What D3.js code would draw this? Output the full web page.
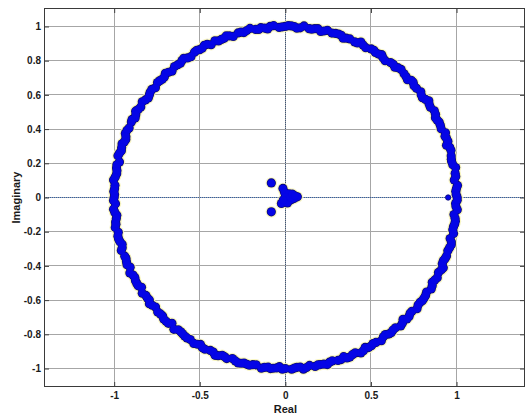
<!DOCTYPE html>
<html>
<head>
<meta charset="utf-8">
<script src="https://cdn.jsdelivr.net/npm/d3@7"></script>
<style>
  html, body { margin: 0; padding: 0; background: #ffffff; }
  svg { display: block; }
  text { font-family: "Liberation Sans", Arial, sans-serif; font-weight: bold; fill: #1a1a1a; }
</style>
</head>
<body>
<svg id="chart" width="529" height="417"></svg>
<script>
// ---- data ----
const xTicks = [-1, -0.5, 0, 0.5, 1];
const xTickLabels = ["-1", "-0.5", "0", "0.5", "1"];
const yTicks = [-1, -0.8, -0.6, -0.4, -0.2, 0, 0.2, 0.4, 0.6, 0.8, 1];
const yTickLabels = ["-1", "-0.8", "-0.6", "-0.4", "-0.2", "0", "0.2", "0.4", "0.6", "0.8", "1"];
const xLabel = "Real";
const yLabel = "Imaginary";

// roots on the unit circle: angle (degrees) and modulus
const ringAngles = [
  0.0, 2.1, 4.0, 5.9, 8.1, 10.0, 12.2, 14.1, 15.9, 18.0,
  20.1, 22.0, 23.8, 26.1, 28.0, 30.2, 31.9, 34.0, 36.1, 38.0,
  39.8, 42.1, 44.0, 46.2, 47.9, 50.0, 52.1, 53.9, 56.0, 58.2,
  60.0, 61.8, 64.1, 66.0, 67.9, 70.1, 72.0, 74.2, 75.9, 78.0,
  80.1, 82.0, 83.8, 86.1, 88.0, 90.0, 92.1, 93.9, 96.0, 98.2,
  100.0, 101.8, 104.1, 106.0, 107.9, 110.1, 112.0, 114.2, 115.9, 118.0,
  120.1, 122.0, 123.8, 126.1, 128.0, 130.2, 131.9, 134.0, 136.1, 138.0,
  139.8, 142.1, 144.0, 146.2, 147.9, 150.0, 152.1, 153.9, 156.0, 158.2,
  160.0, 161.8, 164.1, 166.0, 167.9, 170.1, 172.0, 174.2, 175.9, 178.0,
  180.0, 182.1, 183.9, 186.0, 188.2, 190.0, 191.8, 194.1, 196.0, 197.9,
  200.1, 202.0, 204.2, 205.9, 208.0, 210.1, 212.0, 213.8, 216.1, 218.0,
  220.2, 221.9, 224.0, 226.1, 228.0, 229.8, 232.1, 234.0, 236.2, 237.9,
  240.0, 242.1, 243.9, 246.0, 248.2, 250.0, 251.8, 254.1, 256.0, 257.9,
  260.1, 262.0, 264.2, 265.9, 268.0, 270.0, 272.1, 273.9, 276.0, 278.2,
  280.0, 281.8, 284.1, 286.0, 287.9, 290.1, 292.0, 294.2, 295.9, 298.0,
  300.1, 302.0, 303.8, 306.1, 308.0, 310.2, 311.9, 314.0, 316.1, 318.0,
  319.8, 322.1, 324.0, 326.2, 327.9, 330.0, 332.1, 333.9, 336.0, 338.2,
  340.0, 341.8, 344.1, 346.0, 347.9, 350.1, 352.0, 354.2, 355.9, 358.0,
  1.0, 7.0, 13.0, 19.1, 25.0, 33.0, 41.0, 49.1, 57.0, 65.0,
  73.0, 81.1, 89.0, 97.0, 105.0, 113.1, 121.0, 129.0, 137.0, 145.1,
  153.0, 161.0, 169.0, 177.1, 185.0, 193.0, 201.0, 209.1, 217.0, 225.0,
  233.0, 241.1, 249.0, 257.0, 265.0, 273.1, 281.0, 289.0, 297.0, 305.1,
  313.0, 321.0, 329.0, 337.1, 345.0, 353.0,
  3.0, 11.1, 17.0, 21.0, 27.1, 29.0, 35.0, 37.1, 43.0, 45.0,
  51.0, 55.1, 59.0, 63.0, 69.1, 71.0, 77.0, 79.1, 85.0, 87.0,
  91.0, 95.1, 99.0, 103.0, 109.1, 111.0, 117.0, 119.1, 125.0, 127.0,
  133.0, 135.1, 141.0, 143.0, 149.1, 151.0, 157.0, 159.1, 163.0, 165.0,
  171.0, 173.1, 179.0, 181.0, 187.1, 189.0, 195.0, 197.1, 203.0, 207.0,
  211.0, 215.1, 219.0, 223.0, 227.1, 231.0, 235.0, 239.1, 245.0, 247.0,
  253.0, 255.1, 259.0, 263.0, 267.1, 269.0, 275.0, 277.1, 283.0, 285.0,
  291.0, 293.1, 299.0, 301.0, 307.1, 309.0, 315.0, 317.1, 323.0, 325.0,
  331.0, 335.1, 339.0, 343.0, 349.1, 351.0, 357.0, 359.1
];
const ringRadii = [
  1.004, 0.996, 1.008, 0.992, 1.002, 1.010, 0.994, 0.999, 1.006, 0.990,
  1.003, 1.009, 0.995, 1.001, 0.993, 1.007, 0.998, 1.011, 0.991, 1.004,
  0.997, 1.006, 0.992, 1.002, 1.009, 0.995, 1.000, 0.990, 1.007, 0.998,
  1.003, 0.994, 1.010, 0.996, 1.001, 0.991, 1.005, 0.999, 1.008, 0.993,
  1.002, 0.997, 1.009, 0.992, 1.004, 1.000, 0.995, 1.007, 0.991, 1.003,
  0.998, 1.010, 0.994, 1.001, 0.990, 1.006, 0.997, 1.004, 0.993, 1.008,
  0.999, 1.002, 0.991, 1.007, 0.996, 1.003, 0.992, 1.009, 0.998, 1.005,
  0.994, 1.001, 0.990, 1.006, 0.997, 1.010, 0.993, 1.002, 0.999, 1.007,
  0.992, 1.004, 0.996, 1.008, 0.991, 1.001, 0.995, 1.009, 0.998, 1.003,
  1.000, 0.993, 1.006, 0.990, 1.002, 1.009, 0.997, 1.004, 0.992, 1.007,
  0.999, 1.001, 0.994, 1.010, 0.996, 1.003, 0.991, 1.006, 0.998, 1.008,
  0.993, 1.002, 0.997, 1.005, 0.990, 1.009, 0.995, 1.001, 0.999, 1.007,
  0.992, 1.004, 0.996, 1.010, 0.994, 1.002, 0.991, 1.006, 0.998, 1.003,
  0.993, 1.008, 0.997, 1.001, 0.990, 1.000, 1.005, 0.995, 1.009, 0.992,
  1.003, 0.998, 1.007, 0.994, 1.001, 0.991, 1.006, 0.996, 1.010, 0.993,
  1.002, 0.999, 1.008, 0.992, 1.004, 0.997, 1.009, 0.990, 1.003, 0.995,
  1.007, 0.998, 1.001, 0.993, 1.006, 0.991, 1.004, 0.996, 1.010, 0.994,
  1.002, 0.999, 1.008, 0.992, 1.005, 0.997, 1.003, 0.990, 1.007, 0.995,
  0.998, 1.003, 0.995, 1.005, 0.999, 1.002, 0.996, 1.004, 1.000, 0.997,
  1.003, 0.996, 1.005, 0.998, 1.001, 0.995, 1.004, 0.999, 1.002, 0.997,
  1.005, 0.996, 1.003, 0.999, 1.000, 1.004, 0.997, 1.002, 0.995, 1.005,
  0.998, 1.003, 0.996, 1.001, 1.004, 0.999, 0.997, 1.002, 1.005, 0.996,
  1.003, 0.998, 1.001, 0.995, 1.004, 0.999,
  1.001, 0.997, 1.004, 0.999, 0.996, 1.003, 1.000, 0.995, 1.005, 0.998,
  1.002, 0.996, 1.004, 1.000, 0.997, 1.003, 0.999, 1.005, 0.996, 1.001,
  0.998, 1.004, 0.995, 1.002, 1.000, 0.997, 1.005, 0.999, 0.996, 1.003,
  1.001, 0.998, 1.004, 0.995, 1.002, 0.999, 1.005, 0.997, 1.000, 1.003,
  0.996, 1.001, 0.998, 1.004, 0.995, 1.002, 1.000, 0.997, 1.005, 0.999,
  1.003, 0.996, 1.001, 0.998, 1.004, 0.995, 1.002, 1.000, 0.997, 1.005,
  0.999, 1.003, 0.996, 1.001, 0.998, 1.004, 0.995, 1.002, 1.000, 0.997,
  1.005, 0.999, 1.003, 0.996, 1.001, 0.998, 1.004, 0.995, 1.002, 1.000,
  0.997, 1.005, 0.999, 1.003, 0.996, 1.001, 0.998, 1.004
];

// roots near the origin (real, imaginary)
const innerReal = [-0.082, -0.082, -0.014, -0.005, 0.020, 0.045, 0.070, 0.030, 0.010, -0.023, 0.012, 0.000, 0.050, 0.028, 0.040, -0.012, 0.055];
const innerImag = [ 0.085, -0.084, 0.053, 0.030, 0.022, 0.012, 0.004, -0.014, -0.018, -0.035, -0.032, 0.004, -0.006, 0.000, 0.020, -0.015, 0.010];

// single small root on the real axis
const loneReal = [0.951];
const loneImag = [0.000];

// ---- drawing ----
const svg = d3.select("#chart");
const L = 44, R = 525, T = 8, B = 387;

const x = d3.scaleLinear().domain([-1.41, 1.40]).range([L, R]);
const y = d3.scaleLinear().domain([-1.108, 1.108]).range([B, T]);

svg.append("rect").attr("x", L).attr("y", T).attr("width", R - L).attr("height", B - T).attr("fill", "#ffffff");

// grid lines
const grid = svg.append("g");
grid.selectAll("line.gx").data(xTicks).join("line")
  .attr("x1", d => x(d)).attr("x2", d => x(d))
  .attr("y1", T).attr("y2", B)
  .attr("stroke", "#a6a6a6").attr("stroke-width", 1)
  .attr("shape-rendering", "crispEdges");
grid.selectAll("line.gy").data(yTicks).join("line")
  .attr("x1", L).attr("x2", R)
  .attr("y1", d => y(d)).attr("y2", d => y(d))
  .attr("stroke", "#a6a6a6").attr("stroke-width", 1)
  .attr("shape-rendering", "crispEdges");

// dotted zero lines
svg.append("line")
  .attr("x1", L).attr("x2", R).attr("y1", y(0)).attr("y2", y(0))
  .attr("stroke", "#2f5fa8").attr("stroke-width", 1).attr("stroke-dasharray", "1,1")
  .attr("shape-rendering", "crispEdges");
svg.append("line")
  .attr("x1", x(0)).attr("x2", x(0)).attr("y1", T).attr("y2", B)
  .attr("stroke", "#3c5478").attr("stroke-width", 1).attr("stroke-dasharray", "1,1")
  .attr("shape-rendering", "crispEdges");

// points
const ring = ringAngles.map((a, i) => {
  const t = a * Math.PI / 180;
  return { re: ringRadii[i] * Math.cos(t), im: ringRadii[i] * Math.sin(t) };
});
const inner = innerReal.map((r, i) => ({ re: r, im: innerImag[i] }));
const lone = loneReal.map((r, i) => ({ re: r, im: loneImag[i] }));

const all = ring.concat(inner);
// pale yellow halo
svg.append("g").selectAll("circle").data(all).join("circle")
  .attr("cx", d => x(d.re)).attr("cy", d => y(d.im)).attr("r", 5.8)
  .attr("fill", "#f6f2b4").attr("opacity", 0.8);
// dark edges
svg.append("g").selectAll("circle").data(all).join("circle")
  .attr("cx", d => x(d.re)).attr("cy", d => y(d.im)).attr("r", 4.6)
  .attr("fill", "#0a0a78");
// blue fills
svg.append("g").selectAll("circle").data(all).join("circle")
  .attr("cx", d => x(d.re)).attr("cy", d => y(d.im)).attr("r", 3.8)
  .attr("fill", "#0505e6");
svg.append("g").selectAll("circle").data(lone).join("circle")
  .attr("cx", d => x(d.re)).attr("cy", d => y(d.im)).attr("r", 2.7)
  .attr("fill", "#0505e6").attr("stroke", "#0a0a6e").attr("stroke-width", 0.8);

// axes (ticks inward on all four sides)
const tickLen = 5;
const axB = svg.append("g").attr("transform", `translate(0,${B})`)
  .call(d3.axisBottom(x).tickValues(xTicks).tickSizeInner(-tickLen).tickSizeOuter(0)
    .tickFormat((d, i) => xTickLabels[i]).tickPadding(5));
const axT = svg.append("g").attr("transform", `translate(0,${T})`)
  .call(d3.axisTop(x).tickValues(xTicks).tickSizeInner(-tickLen).tickSizeOuter(0).tickFormat(""));
const axL = svg.append("g").attr("transform", `translate(${L},0)`)
  .call(d3.axisLeft(y).tickValues(yTicks).tickSizeInner(-tickLen).tickSizeOuter(0)
    .tickFormat((d, i) => yTickLabels[i]).tickPadding(3));
const axR = svg.append("g").attr("transform", `translate(${R},0)`)
  .call(d3.axisRight(y).tickValues(yTicks).tickSizeInner(-tickLen).tickSizeOuter(0).tickFormat(""));

[axB, axT, axL, axR].forEach(a => {
  a.select(".domain").remove();
  a.selectAll(".tick line").attr("stroke", "#404040");
  a.selectAll("text").attr("font-size", "10px").attr("font-weight", "bold")
    .attr("font-family", "'Liberation Sans', Arial, sans-serif").attr("fill", "#1a1a1a");
});

// box
svg.append("rect").attr("x", L + 0.5).attr("y", T + 0.5).attr("width", R - L - 1).attr("height", B - T - 1)
  .attr("fill", "none").attr("stroke", "#3a3a3a").attr("stroke-width", 1);

// axis labels
svg.append("text").attr("x", x(0)).attr("y", 413)
  .attr("text-anchor", "middle").attr("font-size", "11px").text(xLabel);
svg.append("text").attr("transform", `translate(20,${y(0)}) rotate(-90)`)
  .attr("text-anchor", "middle").attr("font-size", "11px").text(yLabel);
</script>
</body>
</html>
